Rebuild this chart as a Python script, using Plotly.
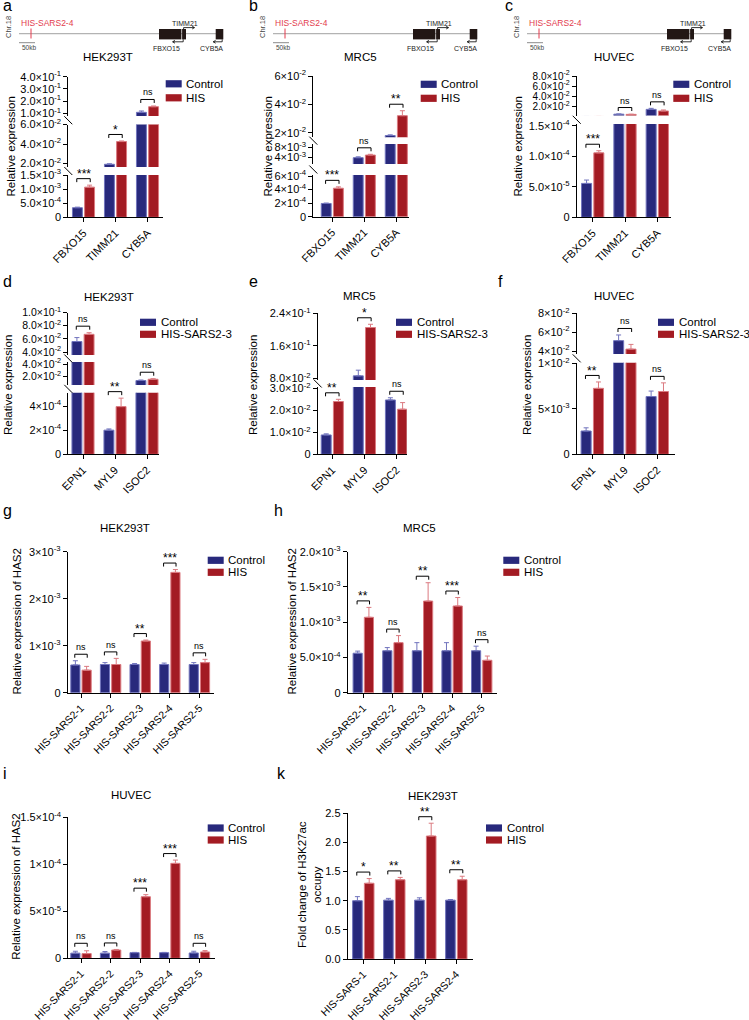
import plotly.graph_objects as go

W, H = 749, 1020
FONT = "Liberation Sans, Arial, Helvetica, sans-serif"
BLUE, BLUE_EDGE = "#28297c", "#7174bd"
RED, RED_EDGE = "#a31b23", "#db7a80"
BW, OFF_C, OFF_H = 0.31, -0.345, 0.035


def sci(m, e):
    return f"{m}×10<sup>{e}</sup>"


# ---------------- data ----------------
genes_abc = ["FBXO15", "TIMM21", "CYB5A"]
genes_def = ["EPN1", "MYL9", "ISOC2"]
sites = ["HIS-SARS2-1", "HIS-SARS2-2", "HIS-SARS2-3", "HIS-SARS2-4", "HIS-SARS2-5"]
sites_k = ["HIS-SARS-1", "HIS-SARS2-1", "HIS-SARS2-3", "HIS-SARS2-4"]

a_ctrl = [3.4e-4, 1.92e-2, 1.08e-1]
a_ctrl_err = [0.2e-4, 0.05e-2, 0.11e-1]
a_his = [1.07e-3, 4.25e-2, 1.54e-1]
a_his_err = [0.07e-3, 0.06e-2, 0.06e-1]
a_sig = ["***", "*", "ns"]

b_ctrl = [1.95e-4, 3.85e-3, 1.8e-2]
b_ctrl_err = [0.06e-4, 0.35e-3, 0.05e-2]
b_his = [4.2e-4, 4.9e-3, 3.2e-2]
b_his_err = [0.2e-4, 0.3e-3, 0.35e-2]
b_sig = ["***", "ns", "**"]

c_ctrl = [5.55e-5, 4.6e-3, 1.41e-2]
c_ctrl_err = [0.55e-5, 0.3e-3, 0.2e-2]
c_his = [1.055e-4, 4.2e-3, 1.09e-2]
c_his_err = [0.035e-4, 0.2e-3, 0.2e-2]
c_sig = ["***", "ns", "ns"]

d_ctrl = [5.6e-2, 2.0e-4, 1.4e-2]
d_ctrl_err = [0.6e-2, 0.1e-4, 0.08e-2]
d_his = [6.7e-2, 3.95e-4, 1.6e-2]
d_his_err = [0.25e-2, 0.7e-4, 0.08e-2]
d_sig = ["ns", "**", "ns"]

e_ctrl = [0.88e-2, 8.6e-2, 2.47e-2]
e_ctrl_err = [0.05e-2, 1.4e-2, 0.1e-2]
e_his = [2.4e-2, 2.05e-1, 2.05e-2]
e_his_err = [0.1e-2, 0.08e-1, 0.3e-2]
e_sig = ["**", "*", "ns"]

f_ctrl = [2.56e-3, 5.1e-2, 6.35e-3]
f_ctrl_err = [0.35e-3, 0.6e-2, 0.6e-3]
f_his = [7.25e-3, 4.2e-2, 6.9e-3]
f_his_err = [0.7e-3, 0.5e-2, 0.95e-3]
f_sig = ["**", "ns", "ns"]

g_ctrl = [0.59e-3, 0.60e-3, 0.60e-3, 0.60e-3, 0.60e-3]
g_ctrl_err = [0.09e-3, 0.04e-3, 0.02e-3, 0.03e-3, 0.04e-3]
g_his = [0.48e-3, 0.60e-3, 1.10e-3, 2.56e-3, 0.64e-3]
g_his_err = [0.08e-3, 0.13e-3, 0.02e-3, 0.06e-3, 0.07e-3]
g_sig = ["ns", "ns", "**", "***", "ns"]

h_ctrl = [0.56e-3, 0.595e-3, 0.595e-3, 0.595e-3, 0.595e-3]
h_ctrl_err = [0.03e-3, 0.045e-3, 0.115e-3, 0.115e-3, 0.065e-3]
h_his = [1.07e-3, 0.71e-3, 1.30e-3, 1.23e-3, 0.46e-3]
h_his_err = [0.14e-3, 0.10e-3, 0.26e-3, 0.12e-3, 0.06e-3]
h_sig = ["**", "ns", "**", "***", "ns"]

i_ctrl = [5.5e-6, 5.5e-6, 6.0e-6, 6.0e-6, 5.7e-6]
i_ctrl_err = [2.0e-6, 1.7e-6, 0.3e-6, 0.3e-6, 1.8e-6]
i_his = [5.0e-6, 8.8e-6, 6.55e-5, 1.01e-4, 6.7e-6]
i_his_err = [3.0e-6, 0.6e-6, 0.22e-5, 0.035e-4, 1.5e-6]
i_sig = ["ns", "ns", "***", "***", "ns"]

k_ctrl = [1.00, 1.01, 1.01, 1.01]
k_ctrl_err = [0.07, 0.03, 0.04, 0.01]
k_his = [1.30, 1.36, 2.11, 1.36]
k_his_err = [0.08, 0.04, 0.22, 0.06]
k_sig = ["*", "**", "**", "**"]

# tick values / labels
a_t1 = [0.1, 0.2, 0.3, 0.4]; a_l1 = [sci("1.0", -1), sci("2.0", -1), sci("3.0", -1), sci("4.0", -1)]
a_t2 = [0.02, 0.04, 0.06]; a_l2 = [sci("2.0", -2), sci("4.0", -2), sci("6.0", -2)]
a_t3 = [0, 5e-4, 1e-3, 1.5e-3]; a_l3 = ["0", sci("5.0", -4), sci("1.0", -3), sci("1.5", -3)]
b_t1 = [0.02, 0.04, 0.06]; b_l1 = [sci("2", -2), sci("4", -2), sci("6", -2)]
b_t2 = [4e-3, 8e-3]; b_l2 = [sci("4", -3), sci("8", -3)]
b_t3 = [0, 2e-4, 4e-4, 6e-4]; b_l3 = ["0", sci("2", -4), sci("4", -4), sci("6", -4)]
c_t1 = [0.02, 0.04, 0.06, 0.08]; c_l1 = [sci("2.0", -2), sci("4.0", -2), sci("6.0", -2), sci("8.0", -2)]
c_t2 = [0, 5e-5, 1e-4, 1.5e-4]; c_l2 = ["0", sci("5.0", -5), sci("1.0", -4), sci("1.5", -4)]
d_t1 = [0.04, 0.06, 0.08, 0.1]; d_l1 = [sci("4.0", -2), sci("6.0", -2), sci("8.0", -2), sci("1.0", -1)]
d_t2 = [0.02, 0.04]; d_l2 = [sci("2.0", -2), sci("4.0", -2)]
d_t3 = [0, 2e-4, 4e-4]; d_l3 = ["0", sci("2", -4), sci("4", -4)]
e_t1 = [0.08, 0.16, 0.24]; e_l1 = [sci("8.0", -2), sci("1.6", -1), sci("2.4", -1)]
e_t2 = [0, 0.01, 0.02, 0.03]; e_l2 = ["0", sci("1.0", -2), sci("2.0", -2), sci("3.0", -2)]
f_t1 = [0.04, 0.06, 0.08]; f_l1 = [sci("4", -2), sci("6", -2), sci("8", -2)]
f_t2 = [0, 5e-3, 1e-2]; f_l2 = ["0", sci("5", -3), sci("1", -2)]
g_t = [0, 1e-3, 2e-3, 3e-3]; g_l = ["0", sci("1", -3), sci("2", -3), sci("3", -3)]
h_t = [0, 5e-4, 1e-3, 1.5e-3, 2e-3]; h_l = ["0", sci("5.0", -4), sci("1.0", -3), sci("1.5", -3), sci("2.0", -3)]
i_t = [0, 5e-5, 1e-4, 1.5e-4]; i_l = ["0", sci("5", -5), sci("1", -4), sci("1.5", -4)]
k_t = [0, 0.5, 1.0, 1.5, 2.0, 2.5]; k_l = ["0.0", "0.5", "1.0", "1.5", "2.0", "2.5"]

# ---------------- helpers ----------------
layout_axes = {}
traces, shapes, annos = [], [], []
n_ax = [0]


def px2x(x):
    return x / W


def px2y(y):
    return 1 - y / H


def text(x, y, s, size, color="black", xanchor="center", yanchor="middle", angle=0, xref="paper"):
    annos.append(dict(x=x if xref != "paper" else px2x(x), y=px2y(y), xref=xref, yref="paper",
                      text=s, showarrow=False, xanchor=xanchor, yanchor=yanchor, textangle=angle,
                      font=dict(size=size, color=color, family=FONT)))


def line(x0, y0, x1, y1, color="black", width=1):
    shapes.append(dict(type="line", xref="paper", yref="paper", x0=px2x(x0), y0=px2y(y0),
                       x1=px2x(x1), y1=px2y(y1), line=dict(color=color, width=width)))


def rect(x0, y0, x1, y1, color):
    shapes.append(dict(type="rect", xref="paper", yref="paper", x0=px2x(x0), y0=px2y(y0),
                       x1=px2x(x1), y1=px2y(y1), fillcolor=color, line=dict(width=0)))


def path(pts, color="black", width=1):
    d = "M " + " L ".join(f"{px2x(x):.5f},{px2y(y):.5f}" for x, y in pts)
    shapes.append(dict(type="path", xref="paper", yref="paper", path=d,
                       line=dict(color=color, width=width)))


def add_axes(x0, x1, y0, y1, xr, yr, xshow, ytv, ytt, xtv, xtt, xfont, yfont):
    n_ax[0] += 1
    sfx = "" if n_ax[0] == 1 else str(n_ax[0])
    xa = dict(domain=[px2x(x0), px2x(x1)], range=xr, anchor="y" + sfx, fixedrange=True,
              showgrid=False, zeroline=False, automargin=False)
    if xshow:
        xa.update(showline=True, linecolor="black", linewidth=1, ticks="outside", ticklen=4,
                  tickwidth=1, tickcolor="black", tickmode="array", tickvals=xtv, ticktext=xtt,
                  tickangle=-45, tickfont=dict(size=xfont, color="black", family=FONT))
    else:
        xa.update(visible=False)
    ya = dict(domain=[px2y(y1), px2y(y0)], range=yr, anchor="x" + sfx, fixedrange=True,
              showgrid=False, zeroline=False, showline=True, linecolor="black", linewidth=1,
              ticks="outside", ticklen=4, tickwidth=1, tickcolor="black", tickmode="array",
              tickvals=ytv, ticktext=ytt, automargin=False,
              tickfont=dict(size=yfont, color="black", family=FONT))
    layout_axes["xaxis" + sfx] = xa
    layout_axes["yaxis" + sfx] = ya
    return "x" + sfx, "y" + sfx


def legend(xs, yc, names, gap):
    for j, (nm, col) in enumerate(zip(names, [BLUE, RED])):
        y = yc + j * gap
        rect(xs, y - 3.6, xs + 16, y + 3.6, col)
        text(xs + 18.6, y, nm, 11.5, xanchor="left")


def panel(P):
    X0, X1 = P["xpx"]
    c0, sp = P["c0"], P["sp"]
    n = len(P["cats"])
    xs = list(range(n))
    xr = [-(c0 - X0) / sp, (X1 - c0) / sp]
    segs = []
    for si, sg in enumerate(P["segs"]):
        (v1, p1), (v2, p2) = sg["anchors"]
        k = (p2 - p1) / (v1 - v2)
        ptop, pbot = sg["px"]
        hi = v1 + (p1 - ptop) / k
        lo = v1 - (pbot - p1) / k
        bottom = si == len(P["segs"]) - 1
        xa, ya = add_axes(X0, X1, ptop, pbot, xr, [lo, hi], bottom, sg["tv"], sg["tt"],
                          xs, P["cats"], P.get("xfont", 11), sg.get("yfont", 11))
        segs.append(dict(lo=lo, hi=hi, ptop=ptop, pbot=pbot, k=k, xa=xa, ya=ya))
        for vals, errs, col, edge, off in ((P["ctrl"], P["ctrl_err"], BLUE, BLUE_EDGE, OFF_C),
                                           (P["his"], P["his_err"], RED, RED_EDGE, OFF_H)):
            traces.append(go.Bar(x=xs, y=vals, width=BW, offset=off, xaxis=xa, yaxis=ya,
                                 showlegend=False, hoverinfo="skip",
                                 marker=dict(color=col, line=dict(color=edge, width=1)),
                                 error_y=dict(type="data", array=errs, arrayminus=[0] * n,
                                              symmetric=False, color=edge, thickness=1, width=2.5)))
    # axis breaks
    for up, lw in zip(segs[:-1], segs[1:]):
        ym = (up["pbot"] + lw["ptop"]) / 2
        line(X0 - 4, ym - 4, X0 + 4, ym + 4, width=1)

    def v2px(v):
        for sg in reversed(segs):
            if v <= sg["hi"]:
                return sg["pbot"] - (max(v, sg["lo"]) - sg["lo"]) * sg["k"]
        return segs[0]["ptop"]

    xa = segs[-1]["xa"]
    for i, lab in enumerate(P["sig"]):
        top = max(P["ctrl"][i] + P["ctrl_err"][i], P["his"][i] + P["his_err"][i])
        yb = v2px(top) - 6.5
        if P.get("min_h"):
            yb = min(yb, segs[-1]["pbot"] - P["min_h"])
        xl, xrr = i - 0.21, i + 0.21
        d = (f"M {xl},{px2y(yb + 3.5):.5f} L {xl},{px2y(yb):.5f} "
             f"L {xrr},{px2y(yb):.5f} L {xrr},{px2y(yb + 3.5):.5f}")
        shapes.append(dict(type="path", xref=xa, yref="paper", path=d,
                           line=dict(color="black", width=1)))
        if lab == "ns":
            text(i, yb - 7, lab, 9, xref=xa)
        else:
            text(i, yb - 4.9, lab, 12, xref=xa)

    tx, ty = P["title_pos"]
    text(tx, ty, P["title"], 11.5)
    yx, yy = P["ytitle_pos"]
    text(yx, yy, P["ytitle"], 11.5, angle=-90)
    lx, ly = P["leg_pos"]
    legend(lx, ly, P["names"], P["leg_gap"])


def gene_track(x0):
    L = 204
    yl = 33.6
    line(x0, yl, x0 + L, yl, color="#b3b3b3", width=1.3)
    line(x0 + 12, 28.5, x0 + 12, 38.5, color="#e33b4d", width=1)
    line(x0, 42.7, x0 + 16, 42.7, color="#8c8c8c", width=1)
    rect(x0 + 140, 29, x0 + 162.4, 39.4, "#221715")
    rect(x0 + 163.1, 29, x0 + 167, 39.4, "#221715")
    rect(x0 + 196.7, 29, x0 + 204.3, 39.4, "#221715")
    # TIMM21 (forward)
    path([(x0 + 164.6, 29), (x0 + 164.6, 27.6), (x0 + 175.3, 27.6)], width=0.8)
    path([(x0 + 173.2, 26.2), (x0 + 175.5, 27.6), (x0 + 173.2, 29.0)], width=0.8)
    # FBXO15 (reverse)
    path([(x0 + 164.2, 39.4), (x0 + 164.2, 41.8), (x0 + 153.8, 41.8)], width=0.8)
    path([(x0 + 156.0, 40.4), (x0 + 153.6, 41.8), (x0 + 156.0, 43.2)], width=0.8)
    # CYB5A (reverse)
    path([(x0 + 203.2, 39.4), (x0 + 203.2, 41.8), (x0 + 194.4, 41.8)], width=0.8)
    path([(x0 + 196.6, 40.4), (x0 + 194.2, 41.8), (x0 + 196.6, 43.2)], width=0.8)
    text(x0 - 10.5, 27.5, "Chr.18", 7.5, color="#444444", angle=-90)
    text(x0, 22.7, "HIS-SARS2-4", 8.5, color="#e33b4d", xanchor="left")
    text(x0 + 0.5, 47.6, "50kb", 6.5, color="#444444", xanchor="left")
    text(x0 + 166, 23.3, "TIMM21", 7, color="#222222")
    text(x0 + 147.3, 48.3, "FBXO15", 7, color="#222222")
    text(x0 + 192.3, 48.3, "CYB5A", 7, color="#222222")


RE = "Relative expression"
RH = "Relative expression of HAS2"
N1 = ["Control", "HIS"]
N3 = ["Control", "HIS-SARS2-3"]

panels = [
    dict(cats=genes_abc, ctrl=a_ctrl, ctrl_err=a_ctrl_err, his=a_his, his_err=a_his_err, sig=a_sig,
         xpx=(68.3, 163.3), c0=83.5, sp=32,
         segs=[dict(anchors=((0.4, 76.7), (0.1, 113.3)), px=(76.7, 116), tv=a_t1, tt=a_l1),
               dict(anchors=((0.06, 124.5), (0.02, 163.5)), px=(124.5, 167), tv=a_t2, tt=a_l2),
               dict(anchors=((1.5e-3, 175), (0, 217.3)), px=(175, 217.3), tv=a_t3, tt=a_l3)],
         title="HEK293T", title_pos=(108.5, 56.7), ytitle=RE, ytitle_pos=(10.5, 147),
         names=N1, leg_pos=(165.7, 83.8), leg_gap=14),
    dict(cats=genes_abc, ctrl=b_ctrl, ctrl_err=b_ctrl_err, his=b_his, his_err=b_his_err, sig=b_sig,
         xpx=(313.3, 409), c0=332.3, sp=32,
         segs=[dict(anchors=((0.06, 76), (0.02, 132.7)), px=(76, 137.3), tv=b_t1, tt=b_l1),
               dict(anchors=((8e-3, 147.3), (4e-3, 157.3)), px=(144, 164), tv=b_t2, tt=b_l2),
               dict(anchors=((6e-4, 176), (0, 216.7)), px=(175, 216.7), tv=b_t3, tt=b_l3)],
         title="MRC5", title_pos=(360.5, 56.7), ytitle=RE, ytitle_pos=(267.5, 147),
         names=N1, leg_pos=(420.7, 84.3), leg_gap=14),
    dict(cats=genes_abc, ctrl=c_ctrl, ctrl_err=c_ctrl_err, his=c_his, his_err=c_his_err, sig=c_sig,
         xpx=(576.7, 670.7), c0=592.7, sp=32.3,
         segs=[dict(anchors=((0.08, 76), (0, 116.5)), px=(76, 115.5), tv=c_t1, tt=c_l1, yfont=10),
               dict(anchors=((1.5e-4, 125.7), (0, 217.3)), px=(124, 217.3), tv=c_t2, tt=c_l2)],
         title="HUVEC", title_pos=(614.3, 56.7), ytitle=RE, ytitle_pos=(517.5, 147),
         names=N1, leg_pos=(673.3, 84.3), leg_gap=14),
    dict(cats=genes_def, ctrl=d_ctrl, ctrl_err=d_ctrl_err, his=d_his, his_err=d_his_err, sig=d_sig,
         xpx=(68.3, 159), c0=83, sp=32,
         segs=[dict(anchors=((0.1, 312.7), (0.04, 352)), px=(312.7, 355), tv=d_t1, tt=d_l1, yfont=10.5),
               dict(anchors=((0.04, 364), (0.02, 376.7)), px=(362, 385), tv=d_t2, tt=d_l2, yfont=10.5),
               dict(anchors=((4e-4, 406), (0, 454.3)), px=(392.7, 454.3), tv=d_t3, tt=d_l3)],
         title="HEK293T", title_pos=(108.8, 296.7), ytitle=RE, ytitle_pos=(8, 385),
         names=N3, leg_pos=(140, 322.3), leg_gap=12),
    dict(cats=genes_def, ctrl=e_ctrl, ctrl_err=e_ctrl_err, his=e_his, his_err=e_his_err, sig=e_sig,
         xpx=(317.7, 406.7), c0=332.3, sp=32.1,
         segs=[dict(anchors=((0.24, 313.3), (0.08, 378.3)), px=(313.3, 380), tv=e_t1, tt=e_l1),
               dict(anchors=((0.03, 388.3), (0, 454.3)), px=(387, 454.3), tv=e_t2, tt=e_l2)],
         title="MRC5", title_pos=(359, 296), ytitle=RE, ytitle_pos=(253, 385),
         names=N3, leg_pos=(396, 322.3), leg_gap=12),
    dict(cats=genes_def, ctrl=f_ctrl, ctrl_err=f_ctrl_err, his=f_his, his_err=f_his_err, sig=f_sig,
         xpx=(576.7, 675), c0=592.3, sp=32.5,
         segs=[dict(anchors=((0.08, 313.3), (0.04, 351)), px=(313.3, 354), tv=f_t1, tt=f_l1),
               dict(anchors=((0.01, 363.3), (0, 454.3)), px=(362.7, 454.3), tv=f_t2, tt=f_l2)],
         title="HUVEC", title_pos=(614.3, 296), ytitle=RE, ytitle_pos=(527, 385),
         names=N3, leg_pos=(658, 322.3), leg_gap=12),
    dict(cats=sites, ctrl=g_ctrl, ctrl_err=g_ctrl_err, his=g_his, his_err=g_his_err, sig=g_sig,
         xpx=(67.7, 214.3), c0=81, sp=29.6, xfont=10.5,
         segs=[dict(anchors=((3e-3, 551.7), (0, 692.7)), px=(551.7, 692.7), tv=g_t, tt=g_l)],
         title="HEK293T", title_pos=(125, 528), ytitle=RH, ytitle_pos=(16, 621.5),
         names=N1, leg_pos=(207.7, 560.3), leg_gap=12),
    dict(cats=sites, ctrl=h_ctrl, ctrl_err=h_ctrl_err, his=h_his, his_err=h_his_err, sig=h_sig,
         xpx=(347.7, 496.7), c0=363.3, sp=29.6, xfont=10.5,
         segs=[dict(anchors=((2e-3, 551.7), (0, 692.7)), px=(551.7, 692.7), tv=h_t, tt=h_l)],
         title="MRC5", title_pos=(419, 528), ytitle=RH, ytitle_pos=(291, 621.5),
         names=N1, leg_pos=(503.3, 560.3), leg_gap=12),
    dict(cats=sites, ctrl=i_ctrl, ctrl_err=i_ctrl_err, his=i_his, his_err=i_his_err, sig=i_sig,
         xpx=(68.3, 215), c0=81, sp=29.6, xfont=10.5, min_h=15,
         segs=[dict(anchors=((1.5e-4, 817.3), (0, 958.3)), px=(817.3, 958.3), tv=i_t, tt=i_l)],
         title="HUVEC", title_pos=(131, 795), ytitle=RH, ytitle_pos=(16, 886.7),
         names=N1, leg_pos=(207.7, 828), leg_gap=12),
    dict(cats=sites_k, ctrl=k_ctrl, ctrl_err=k_ctrl_err, his=k_his, his_err=k_his_err, sig=k_sig,
         xpx=(347.7, 472.7), c0=363.3, sp=31, xfont=10.5,
         segs=[dict(anchors=((2.5, 813.3), (0, 959)), px=(813.3, 959), tv=k_t, tt=k_l)],
         title="HEK293T", title_pos=(432.7, 796), ytitle="Fold change of H3K27ac<br>occupy",
         ytitle_pos=(309, 885), names=N1, leg_pos=(486, 828), leg_gap=12),
]

for P in panels:
    panel(P)

for x0 in (19, 273, 527):
    gene_track(x0)

for lab, x, y in [("a", 0.5, 5.8), ("b", 246.5, 5.8), ("c", 502.5, 5.8),
                  ("d", 0.5, 281.8), ("e", 246.5, 281.8), ("f", 495.5, 281.8),
                  ("g", 1, 510.8), ("h", 271.5, 510.8), ("i", 0.5, 773.8), ("k", 274.5, 773.8)]:
    text(x, y, lab, 16, xanchor="left")

fig = go.Figure(data=traces)
fig.update_layout(
    template="none", width=W, height=H, margin=dict(l=0, r=0, t=0, b=0, pad=0),
    paper_bgcolor="white", plot_bgcolor="rgba(0,0,0,0)", barmode="overlay",
    showlegend=False, font=dict(family=FONT, color="black"),
    shapes=shapes, annotations=annos, **layout_axes)
fig.write_html("out.html", config={"displayModeBar": False},
               post_script="document.body.style.margin='0';")
